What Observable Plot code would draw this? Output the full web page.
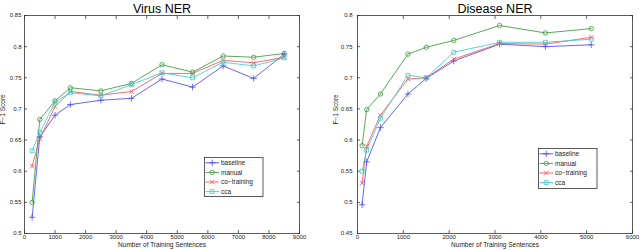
<!DOCTYPE html>
<html><head><meta charset="utf-8">
<script src="https://cdn.jsdelivr.net/npm/d3@7"></script>
<script src="https://cdn.jsdelivr.net/npm/@observablehq/plot@0.6"></script>
<style>
body{margin:0;background:#fff;}
#wrap{position:relative;width:640px;height:250px;display:flex;font-family:"Liberation Sans",Arial,sans-serif;}
#wrap > div{position:relative;width:320px;height:250px;}
.legend{position:absolute;}
</style></head><body><div id="wrap"></div>
<script>
// Series definitions
const seriesNames = ["baseline", "manual", "co\u2212training", "cca"];
const seriesColors = ["#4a4aff", "#3c9a3c", "#ff5050", "#3ccccc"];
const seriesSymbols = ["plus", "circle", "times", "square"];

// Virus NER
const virusX = [250, 500, 1000, 1500, 2500, 3500, 4500, 5500, 6500, 7500, 8500];
const virusBaseline   = [0.526, 0.655, 0.690, 0.707, 0.714, 0.717, 0.748, 0.735, 0.769, 0.749, 0.788];
const virusManual     = [0.550, 0.683, 0.713, 0.734, 0.729, 0.741, 0.771, 0.759, 0.785, 0.783, 0.789];
const virusCoTraining = [0.608, 0.652, 0.704, 0.728, 0.722, 0.728, 0.757, 0.757, 0.778, 0.774, 0.783];
const virusCca        = [0.633, 0.662, 0.711, 0.726, 0.721, 0.739, 0.758, 0.750, 0.775, 0.769, 0.782];
const virusXTicks = [0, 1000, 2000, 3000, 4000, 5000, 6000, 7000, 8000, 9000];
const virusYTicks = [0.5, 0.55, 0.6, 0.65, 0.7, 0.75, 0.8, 0.85];

// Disease NER
const diseaseX = [100, 200, 500, 1100, 1500, 2100, 3100, 4100, 5100];
const diseaseBaseline   = [0.496, 0.565, 0.620, 0.674, 0.699, 0.727, 0.754, 0.750, 0.753];
const diseaseManual     = [0.591, 0.649, 0.674, 0.738, 0.749, 0.760, 0.784, 0.772, 0.779];
const diseaseCoTraining = [0.531, 0.590, 0.640, 0.698, 0.700, 0.730, 0.755, 0.754, 0.765];
const diseaseCca        = [0.550, 0.584, 0.635, 0.704, 0.700, 0.741, 0.757, 0.757, 0.762];
const diseaseXTicks = [0, 1000, 2000, 3000, 4000, 5000, 6000];
const diseaseYTicks = [0.45, 0.5, 0.55, 0.6, 0.65, 0.7, 0.75, 0.8];

const font = "'Liberation Sans', Arial, sans-serif";
const markR = 2.2;

function chart({title, xs, series, xTicks, yTicks, marginLeft, marginRight, yPad, yLabelDx, legendBox}) {
  const rows = series.flatMap((vals, si) => vals.map((v, i) => ({x: xs[i], y: v, s: seriesNames[si]})));
  const fmtY = d => String(+d.toFixed(2));
  const plot = Plot.plot({
    width: 320, height: 250,
    marginLeft, marginRight, marginTop: 15, marginBottom: 17,
    style: {fontFamily: font, fontSize: "6px", background: "white", color: "#222"},
    x: {domain: [xTicks[0], xTicks[xTicks.length - 1]]},
    y: {domain: [yTicks[0], yTicks[yTicks.length - 1]]},
    color: {domain: seriesNames, range: seriesColors},
    symbol: {domain: seriesNames, range: seriesSymbols},
    marks: [
      Plot.axisX(xTicks, {anchor: "bottom", tickSize: -3, tickPadding: 4.5, tickFormat: d3.format("d"), label: null, strokeWidth: 0.7}),
      Plot.axisX(xTicks, {anchor: "top", tickSize: -3, tickFormat: () => "", label: null, strokeWidth: 0.7}),
      Plot.axisY(yTicks, {anchor: "left", tickSize: -3, tickPadding: yPad, tickFormat: fmtY, label: null, strokeWidth: 0.7}),
      Plot.axisY(yTicks, {anchor: "right", tickSize: -3, tickFormat: () => "", label: null, strokeWidth: 0.7}),
      Plot.frame({stroke: "#333", strokeWidth: 0.8}),
      Plot.line(rows, {x: "x", y: "y", stroke: "s", z: "s", strokeWidth: 0.85}),
      Plot.dot(rows, {x: "x", y: "y", stroke: "s", symbol: "s", r: markR, strokeWidth: 0.8, fill: "none"}),
      Plot.text([title], {text: d => d, frameAnchor: "top", dy: -3, lineAnchor: "bottom", fontSize: 12.5, fill: "#000"}),
      Plot.text(["F\u22121 Score"], {text: d => d, frameAnchor: "left", rotate: -90, dx: yLabelDx, fontSize: 6.5, fill: "#222"}),
      Plot.text(["Number of Training Sentences"], {text: d => d, frameAnchor: "bottom", dy: 13.5, fontSize: 6.5, fill: "#222"})
    ]
  });
  const holder = document.createElement("div");
  holder.appendChild(plot);
  // legend
  const [lx, ly, lw, lh] = legendBox;
  const svg = d3.create("svg").attr("class", "legend")
    .attr("width", lw + 1).attr("height", lh + 1)
    .style("left", lx + "px").style("top", ly + "px")
    .style("font-family", font).style("font-size", "6.5px");
  svg.append("rect").attr("x", 0.5).attr("y", 0.5).attr("width", lw).attr("height", lh)
    .attr("fill", "white").attr("stroke", "#333").attr("stroke-width", 0.8);
  const symMap = {plus: d3.symbolPlus, circle: d3.symbolCircle, times: d3.symbolTimes, square: d3.symbolSquare};
  seriesNames.forEach((name, i) => {
    const cy = 5.8 + i * 9.6;
    const g = svg.append("g");
    g.append("line").attr("x1", 1.5).attr("x2", 15).attr("y1", cy).attr("y2", cy)
      .attr("stroke", seriesColors[i]).attr("stroke-width", 0.9);
    g.append("path").attr("transform", `translate(8.2,${cy})`)
      .attr("d", d3.symbol(symMap[seriesSymbols[i]], Math.PI * markR * markR)())
      .attr("fill", "none").attr("stroke", seriesColors[i]).attr("stroke-width", 0.8);
    g.append("text").attr("x", 17).attr("y", cy).attr("dy", "0.35em").attr("fill", "#222").text(name);
  });
  holder.appendChild(svg.node());
  return holder;
}

const wrap = document.getElementById("wrap");
wrap.appendChild(chart({
  title: "Virus NER", xs: virusX,
  series: [virusBaseline, virusManual, virusCoTraining, virusCca],
  xTicks: virusXTicks, yTicks: virusYTicks,
  marginLeft: 24, marginRight: 21, yPad: 6, yLabelDx: -21.5,
  legendBox: [204, 157, 58.5, 39]
}));
wrap.appendChild(chart({
  title: "Disease NER", xs: diseaseX,
  series: [diseaseBaseline, diseaseManual, diseaseCoTraining, diseaseCca],
  xTicks: diseaseXTicks, yTicks: diseaseYTicks,
  marginLeft: 37, marginRight: 8, yPad: 8, yLabelDx: -22,
  legendBox: [218, 148, 58.5, 40]
}));
</script></body></html>
